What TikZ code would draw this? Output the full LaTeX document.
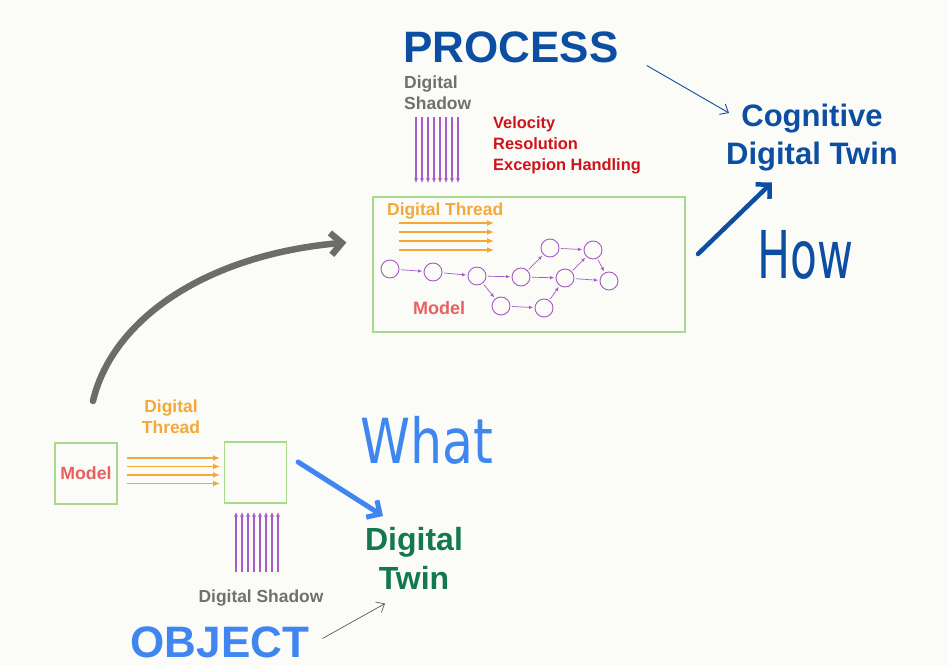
\documentclass[tikz,border=0pt]{standalone}
\usepackage{fontspec}
\setmainfont{Liberation Sans}
\newfontfamily\handfont{DejaVu Sans}
\usetikzlibrary{positioning}
\usetikzlibrary{calc}
\usetikzlibrary{arrows.meta}
\definecolor{paper}{HTML}{FBFBF7}
\definecolor{box-green}{HTML}{A9D98C}
\definecolor{thread-orange}{HTML}{F5A83A}
\definecolor{shadow-purple}{HTML}{A65CC6}
\definecolor{model-red}{HTML}{E8605F}
\definecolor{label-grey}{HTML}{707070}
\definecolor{list-red}{HTML}{D0121B}
\definecolor{deep-blue}{HTML}{0B4EA2}
\definecolor{light-blue}{HTML}{3F86F0}
\definecolor{twin-green}{HTML}{13794D}
\definecolor{arc-grey}{HTML}{6C6C6C}
\newcommand{\tikzbundle}[5][]{%
\pgfmathtruncatemacro{\bundleend}{#5-1}
% parallel arrows, each one shifted by #4
\foreach \k in {0,...,\bundleend} {%
  \draw[#1] ($(#2)+\k*(#4)$) -- ($(#3)+\k*(#4)$);
}
}

\begin{document}
\begin{tikzpicture}[x=1pt,y=-1pt,
  gbox/.style={draw=box-green,line width=1.2pt,minimum width=62pt,minimum height=61pt,inner sep=0pt},
  txt/.style={inner sep=0pt,font=\bfseries},
  gnode/.style={circle,draw=shadow-purple,line width=0.9pt,minimum size=18pt,inner sep=0pt},
  gedge/.style={draw=shadow-purple,line width=0.7pt,-{Latex[length=4pt,width=3.5pt]},shorten >=1.5pt,shorten <=1.5pt},
  threadarrow/.style={draw=thread-orange,line width=1.8pt,-{Latex[length=7pt,width=6pt]}},
  shadowarrow/.style={draw=shadow-purple,line width=1.1pt,-{Latex[length=4.5pt,width=4pt]}},
  sketcharrow/.style={line width=5pt,line cap=round,line join=round,-{Straight Barb[length=10pt,width=20pt]}},
  thinarrow/.style={line width=0.9pt,-{Straight Barb[length=7pt,width=12pt]}}
]
\useasboundingbox (0,0) rectangle (948,666);
\fill[paper] (0,0) rectangle (948,666);

% process part
\node[txt,text=deep-blue,font=\bfseries\fontsize{44}{50}\selectfont] (process) at (511,47.5) {PROCESS};
\node[txt,anchor=north west,align=left,text=label-grey,font=\bfseries\fontsize{17.5}{21}\selectfont] (shadowtop) at (404,76) {Digital\\Shadow};
\node[txt,anchor=north west,align=left,text=list-red,font=\bfseries\fontsize{16.4}{21}\selectfont] (aspects) at (493,116) {Velocity\\Resolution\\Excepion Handling};
\tikzbundle[shadowarrow]{416,117}{416,183}{6,0}{8}
\node[gbox,minimum width=312pt,minimum height=135pt] (processbox) at (529,264.5) {};
\node[txt,anchor=north west,text=thread-orange,font=\bfseries\fontsize{17.4}{21}\selectfont] (threadtop) at (387,203) {Digital Thread};
\tikzbundle[threadarrow]{399,223}{494,223}{0,9}{4}
\node[txt,anchor=north west,text=model-red,font=\bfseries\fontsize{18}{21}\selectfont] (modeltop) at (413,301) {Model};

% model graph
\node[gnode] (c1) at (390,269) {};
\node[gnode] (c2) at (433,272) {};
\node[gnode] (c3) at (477,276) {};
\node[gnode] (c4) at (521,277) {};
\node[gnode] (c5) at (550,248) {};
\node[gnode] (c6) at (593,250) {};
\node[gnode] (c7) at (565,278) {};
\node[gnode] (c8) at (609,281) {};
\node[gnode] (c9) at (501,306) {};
\node[gnode] (c10) at (544,308) {};
\foreach \a/\b in {c1/c2,c2/c3,c3/c4,c3/c9,c4/c5,c4/c7,c5/c6,c7/c6,c7/c8,c6/c8,c9/c10,c10/c7} {
  \draw[gedge] (\a) -- (\b);
}

% cognitive digital twin
\node[txt,anchor=north,align=center,text=deep-blue,font=\bfseries\fontsize{31}{38}\selectfont] (cdt) at (812,104) {Cognitive\\Digital Twin};
\draw[thinarrow,draw=deep-blue] ($(process.east)+(28,18)$) -- ($(cdt.north west)+(3,9)$);
\coordinate (howstart) at (698,254);
\draw[sketcharrow,draw=deep-blue,line width=4.5pt] (howstart) -- ($(cdt.south)+(-40,11)$);
\node[text=deep-blue,font=\handfont\fontsize{44}{44}\selectfont] (how) at (805,255) {\scalebox{1}[1.5]{How}};

% grey arc from object to process
\coordinate (arcstart) at (93,401);
\coordinate (arcend) at ($(processbox.west)+(-26,-22)$);
\draw[arc-grey,line width=6.5pt,line cap=round,line join=round,-{Straight Barb[length=11pt,width=22pt]}] (arcstart) .. controls (112,320) and (205,255) .. (arcend);

% object part
\node[gbox,text=model-red,font=\bfseries\fontsize{17.7}{21}\selectfont] (model) at (86,473.5) {Model};
\node[gbox] (twin) at (255.5,472.5) {};
\node[txt,anchor=north,align=center,text=thread-orange,font=\bfseries\fontsize{17.4}{21}\selectfont] (threadbottom) at (171,400) {Digital\\Thread};
\tikzbundle[threadarrow]{127,458}{220,458}{0,8.5}{4}
\tikzbundle[shadowarrow]{236,572}{236,512}{6,0}{8}
\node[txt,text=label-grey,font=\bfseries\fontsize{17.4}{21}\selectfont] (shadowbottom) at (261,598) {Digital Shadow};

% digital twin
\node[txt,anchor=north,align=center,text=twin-green,font=\bfseries\fontsize{32}{39}\selectfont] (dt) at (414,527) {Digital\\Twin};
\draw[sketcharrow,draw=light-blue] ($(twin.east)+(11,-10.5)$) -- ($(dt.north)+(-31,-11)$);
\node[text=light-blue,font=\handfont\fontsize{46}{46}\selectfont] (what) at (427,440) {\scalebox{1.1}[1.35]{What}};
\node[txt,text=light-blue,font=\bfseries\fontsize{44}{50}\selectfont] (object) at (220,642.5) {OBJECT};
\draw[thinarrow,draw=black!65,line width=0.7pt] ($(object.east)+(13,-4)$) -- ($(dt.south)+(-29,14)$);
\end{tikzpicture}
\end{document}
